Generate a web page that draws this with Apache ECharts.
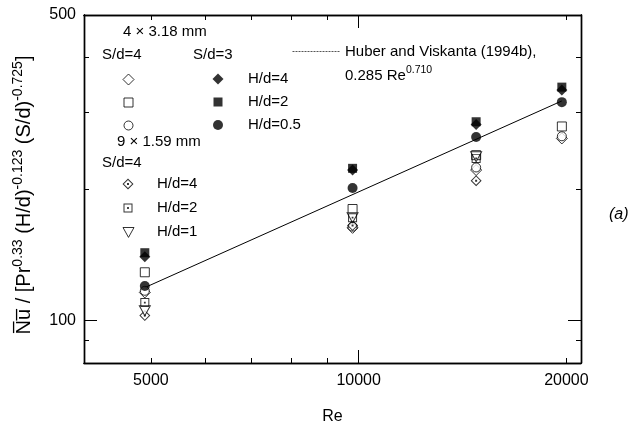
<!DOCTYPE html>
<html>
<head>
<meta charset="utf-8">
<script src="https://cdn.jsdelivr.net/npm/echarts@6/dist/echarts.min.js"></script>
<style>html,body{margin:0;padding:0;background:#fff}#c{width:643px;height:429px}</style>
</head>
<body>
<div id="c"></div>
<script>
// ---- data ----
const reValues = [4900, 9800, 14800, 19700];        // 4 x 3.18 mm jets
const re9 = [4900, 9800, 14800];                     // 9 x 1.59 mm jets
// 4 x 3.18 mm, S/d = 4 (open symbols)
const open_Hd4 = [116, 163, 221, 261];
const open_Hd2 = [129, 180, 239, 278];
const open_Hd05 = [117, 164, 224, 264];
// 4 x 3.18 mm, S/d = 3 (filled symbols)
const filled_Hd4 = [140, 221, 281, 337];
const filled_Hd2 = [143, 223, 285, 342];
const filled_Hd05 = [120, 201, 263, 316];
// 9 x 1.59 mm, S/d = 4
const dot_Hd4 = [102.7, 165, 209];
const dot_Hd2 = [110, 172, 235];
const tri_Hd1 = [105.4, 172, 237];
// Huber and Viskanta (1994b) correlation line end points
const fitRe = [4900, 19700];
const fitNu = [119, 318];
// axes
const xMin = 4000, xMax = 21000;
const xLabelVals = [5000, 10000, 20000];
const xMinorTicks = [5000, 6000, 7000, 8000, 9000, 20000];
const xMajorTicks = [10000];
const yMin = 80, yMax = 500;
const yLabelVals = [100, 500];
const yMinorTicks = [90, 200, 300, 400];
const yMajorTicks = [100, 500];

const FONT = 'Liberation Sans, Arial, Helvetica, sans-serif';
const zip = (xs, ys) => xs.map((x, i) => [x, ys[i]]);

const DOT_DIAMOND = 'path://M11,0 L22,11 L11,22 L0,11 Z M11,2.8 L2.8,11 L11,19.2 L19.2,11 Z M9,9 L13,9 L13,13 L9,13 Z';
const DOT_SQUARE = 'path://M0,0 L20,0 L20,20 L0,20 Z M2.2,2.2 L2.2,17.8 L17.8,17.8 L17.8,2.2 Z M8,8 L12,8 L12,12 L8,12 Z';
const TRI_DOWN = 'path://M0,0 L20,0 L10,18 Z';
let dashPath = 'path://';
for (let i = 0; i < 48; i += 3) dashPath += 'M' + i + ',0 L' + (i + 2) + ',0 L' + (i + 2) + ',1 L' + i + ',1 Z ';

const openStyle = {color: '#fff', borderColor: '#000', borderWidth: 1};
const fillStyle = {color: '#000', borderColor: '#000', borderWidth: 0};
const ringStyle = {color: '#000', borderWidth: 0};

const seriesDefs = [
  {name: 'o4', x: reValues, y: open_Hd4, symbol: 'diamond', size: 11, st: openStyle},
  {name: 'o05', x: reValues, y: open_Hd05, symbol: 'circle', size: 9, st: openStyle},
  {name: 'o2', x: reValues, y: open_Hd2, symbol: 'rect', size: 9, st: openStyle},
  {name: 'd4', x: re9, y: dot_Hd4, symbol: DOT_DIAMOND, size: 11, st: ringStyle},
  {name: 't1', x: re9, y: tri_Hd1, symbol: TRI_DOWN, size: [11, 10], st: openStyle},
  {name: 'd2', x: re9, y: dot_Hd2, symbol: DOT_SQUARE, size: 9, st: ringStyle},
  {name: 'f05', x: reValues, y: filled_Hd05, symbol: 'circle', size: 10, st: fillStyle},
  {name: 'f2', x: reValues, y: filled_Hd2, symbol: 'rect', size: 9, st: fillStyle},
  {name: 'f4', x: reValues, y: filled_Hd4, symbol: 'diamond', size: 11, st: fillStyle}
];

const series = [{
  name: 'fit', type: 'line', data: zip(fitRe, fitNu), symbol: 'none', showSymbol: false,
  lineStyle: {color: '#000', width: 1}, itemStyle: {color: '#000'}, z: 2, silent: true
}].concat(seriesDefs.map(d => ({
  name: d.name, type: 'scatter', data: zip(d.x, d.y), symbol: d.symbol,
  symbolSize: d.size, itemStyle: d.st, z: 3, silent: true
})));

// legend icon positions (centres)
const legendPos = {
  o4: [128, 79], o2: [128, 102], o05: [128, 125],
  f4: [218, 79], f2: [218, 102], f05: [218, 125],
  d4: [128, 184], d2: [128, 208], t1: [128, 232]
};
const legends = seriesDefs.map(d => {
  const [cx, cy] = legendPos[d.name];
  const w = Array.isArray(d.size) ? d.size[0] : d.size;
  const h = Array.isArray(d.size) ? d.size[1] : d.size;
  return {
    data: [d.name], left: cx - w / 2, top: cy - h / 2, itemWidth: w, itemHeight: h,
    padding: 0, selectedMode: false, formatter: () => '', itemGap: 0,
    itemStyle: {borderWidth: d.st.borderWidth, borderColor: '#000'},
    textStyle: {fontSize: 1}
  };
});
legends.push({
  data: [{name: 'fit', icon: dashPath}], left: 292, top: 51, itemWidth: 48, itemHeight: 1, padding: 0,
  selectedMode: false, formatter: () => '', itemStyle: {color: '#555', borderWidth: 0},
  textStyle: {fontSize: 1}
});

function xAx(pos, ticks, len, labels) {
  return {
    type: 'log', position: pos, min: xMin, max: xMax, gridIndex: 0,
    axisLine: {show: true, onZero: false, lineStyle: {color: '#000', width: 1.4}},
    axisTick: {show: true, inside: true, length: len, customValues: ticks, lineStyle: {color: '#000', width: 1}},
    axisLabel: labels ? {show: true, customValues: labels, margin: 10, color: '#000', fontSize: 16, fontFamily: FONT, formatter: v => String(v)} : {show: false},
    splitLine: {show: false}, minorTick: {show: false}, minorSplitLine: {show: false},
    name: labels ? 'Re' : '', nameLocation: 'middle', nameGap: 46,
    nameTextStyle: {color: '#000', fontSize: 16, fontFamily: FONT}
  };
}
function yAx(pos, ticks, len, labels) {
  return {
    type: 'log', position: pos, min: yMin, max: yMax, gridIndex: 0,
    axisLine: {show: true, onZero: false, lineStyle: {color: '#000', width: 1.4}},
    axisTick: {show: true, inside: true, length: len, customValues: ticks, lineStyle: {color: '#000', width: 1}},
    axisLabel: labels ? {show: true, customValues: labels, margin: 8, color: '#000', fontSize: 16, fontFamily: FONT, formatter: v => String(v)} : {show: false},
    splitLine: {show: false}, minorTick: {show: false}, minorSplitLine: {show: false},
    name: labels ? '{m|N\u0305u\u0305 / [Pr}{s|0.33}{m| (H/d)}{s|-0.123}{m| (S/d)}{s|-0.725}{m|]}' : '',
    nameLocation: 'middle', nameRotate: 90, nameGap: 50,
    nameTextStyle: {
      color: '#000', fontFamily: FONT, padding: [0, 12, 0, 0],
      rich: {
        m: {fontSize: 20, fontFamily: FONT, color: '#000', lineHeight: 23, verticalAlign: 'bottom'},
        s: {fontSize: 14, fontFamily: FONT, color: '#000', lineHeight: 18, verticalAlign: 'top'}
      }
    }
  };
}

const chart = echarts.init(document.getElementById('c'), null, {renderer: 'canvas'});
chart.setOption({
  animation: false,
  backgroundColor: '#fff',
  grid: {left: 84, right: 62, top: 15, bottom: 66, containLabel: false, outerBoundsMode: 'none'},
  xAxis: [xAx('bottom', xMinorTicks, 5, xLabelVals), xAx('bottom', xMajorTicks, 13, null),
          xAx('top', xMinorTicks, 5, null), xAx('top', xMajorTicks, 13, null)],
  yAxis: [yAx('left', yMinorTicks, 5, yLabelVals), yAx('left', yMajorTicks, 13, null),
          yAx('right', yMinorTicks, 5, null), yAx('right', yMajorTicks, 13, null)],
  legend: legends,
  series: series,
  graphic: [
    {type: 'text', x: 123, y: 32, style: {text: '4 \u00d7 3.18 mm', font: '15px ' + FONT, fill: '#000', verticalAlign: 'middle'}},
    {type: 'text', x: 102, y: 55, style: {text: 'S/d=4', font: '15px ' + FONT, fill: '#000', verticalAlign: 'middle'}},
    {type: 'text', x: 193, y: 55, style: {text: 'S/d=3', font: '15px ' + FONT, fill: '#000', verticalAlign: 'middle'}},
    {type: 'text', x: 248, y: 79, style: {text: 'H/d=4', font: '15px ' + FONT, fill: '#000', verticalAlign: 'middle'}},
    {type: 'text', x: 248, y: 102, style: {text: 'H/d=2', font: '15px ' + FONT, fill: '#000', verticalAlign: 'middle'}},
    {type: 'text', x: 248, y: 125, style: {text: 'H/d=0.5', font: '15px ' + FONT, fill: '#000', verticalAlign: 'middle'}},
    {type: 'text', x: 117, y: 142, style: {text: '9 \u00d7 1.59 mm', font: '15px ' + FONT, fill: '#000', verticalAlign: 'middle'}},
    {type: 'text', x: 102, y: 163, style: {text: 'S/d=4', font: '15px ' + FONT, fill: '#000', verticalAlign: 'middle'}},
    {type: 'text', x: 157, y: 184, style: {text: 'H/d=4', font: '15px ' + FONT, fill: '#000', verticalAlign: 'middle'}},
    {type: 'text', x: 157, y: 208, style: {text: 'H/d=2', font: '15px ' + FONT, fill: '#000', verticalAlign: 'middle'}},
    {type: 'text', x: 157, y: 232, style: {text: 'H/d=1', font: '15px ' + FONT, fill: '#000', verticalAlign: 'middle'}},
    {type: 'text', x: 345, y: 52, style: {text: 'Huber and Viskanta (1994b),', font: '15px ' + FONT, fill: '#000', verticalAlign: 'middle'}},
    {type: 'text', x: 345, y: 74, style: {
      text: '{m|0.285 Re}{s|0.710}', verticalAlign: 'middle',
      rich: {m: {fontSize: 15, fontFamily: FONT, fill: '#000', lineHeight: 18, verticalAlign: 'bottom'},
             s: {fontSize: 10.5, fontFamily: FONT, fill: '#000', lineHeight: 13, verticalAlign: 'top'}}
    }},
    {type: 'text', x: 609, y: 215, style: {text: '(a)', font: 'italic 16px ' + FONT, fill: '#000', verticalAlign: 'middle'}}
  ]
});
</script>
</body>
</html>
